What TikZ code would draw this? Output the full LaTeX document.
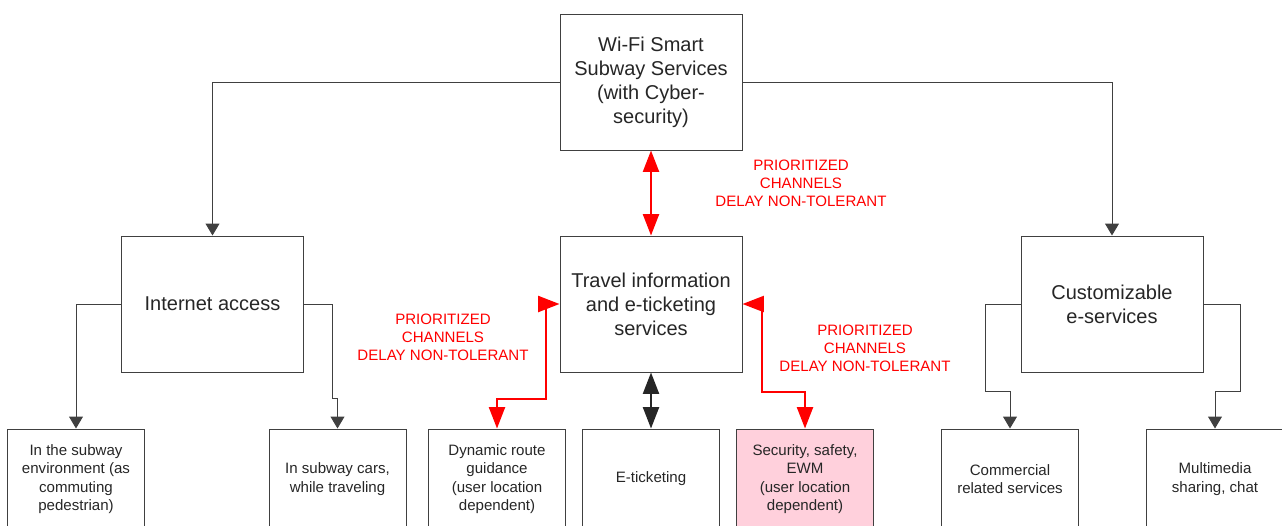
\documentclass[tikz,border=0pt]{standalone}
\usepackage{fontspec}
\setmainfont{Liberation Sans}
\usepackage{tikz}
\usetikzlibrary{arrows.meta, calc}
\definecolor{linegray}{HTML}{404040}
\definecolor{textgray}{HTML}{262626}
\definecolor{alertpink}{HTML}{FFD0DC}

\begin{document}
\begin{tikzpicture}[x=0.75pt, y=-0.75pt,
    bigbox/.style={draw=linegray, line width=0.75pt, text=textgray, align=center, inner sep=0pt,
        minimum width=136.5pt, minimum height=102pt, font=\fontsize{15}{18}\selectfont},
    smallbox/.style={draw=linegray, line width=0.75pt, text=textgray, align=center, inner sep=0pt,
        minimum width=102.75pt, minimum height=75pt, font=\fontsize{11.3}{13.9}\selectfont},
    note/.style={text=red, align=center, inner sep=0pt, font=\fontsize{11.3}{13.5}\selectfont},
    link/.style={draw=linegray, line width=0.75pt, -{Triangle[length=9pt, width=10.5pt]}},
    fastlink/.style={draw=red, line width=1.5pt, {Triangle[length=16pt, width=12pt]}-{Triangle[length=16pt, width=12pt]}}]
        \clip (0,0) rectangle (1282,525);

        % Nodes
        \node[bigbox] (top) at (651, 82) {Wi-Fi Smart\\Subway Services\\(with Cyber-\\security)};
        \node[bigbox] (ia) at (212.5, 304) {Internet access};
        \node[bigbox] (travel) at (651, 304) {Travel information\\and e-ticketing\\services};
        \node[bigbox] (cust) at (1112, 304) {Customizable\\e-services};

        \node[smallbox] (env) at (76, 479) {In the subway\\environment (as\\commuting\\pedestrian)};
        \node[smallbox] (cars) at (337.5, 479) {In subway cars,\\while traveling};
        \node[smallbox] (route) at (497, 479) {Dynamic route\\guidance\\(user location\\dependent)};
        \node[smallbox] (eticket) at (651, 479) {E-ticketing};
        \node[smallbox, fill=alertpink] (safety) at (805, 479) {Security, safety,\\EWM\\(user location\\dependent)};
        \node[smallbox] (shop) at (1010, 479) {Commercial\\related services};
        \node[smallbox] (media) at (1215, 479) {Multimedia\\sharing, chat};

        \node[note] (qos1) at (801, 183) {PRIORITIZED\\CHANNELS\\DELAY NON-TOLERANT};
        \node[note] (qos2) at (443, 337) {PRIORITIZED\\CHANNELS\\DELAY NON-TOLERANT};
        \node[note] (qos3) at (865, 348) {PRIORITIZED\\CHANNELS\\DELAY NON-TOLERANT};

        % Directed edges
        \draw[link] (top.west) -| (ia.north);
        \draw[link] (top.east) -| (cust.north);
        \draw[link] (ia.west) -| (env.north);
        \draw[link] (ia.east) -| ($(cars.north)+(-5,-30)$) -| (cars.north);
        \draw[link] (cust.west) -| ($(shop.north)+(-25,-37)$) -| (shop.north);
        \draw[link] (cust.east) -| ($(media.north)+(25,-37)$) -| (media.north);

        % Prioritized channels
        \draw[fastlink] (top.south) -- (travel.north);
        \draw[fastlink] (travel.west) -- ++(-14,0) |- ($(route.north)+(0,-30)$) -- (route.north);
        \draw[fastlink] (travel.east) -- ++(19,0) |- ($(safety.north)+(0,-37)$) -- (safety.north);
        \draw[fastlink, draw=textgray] (travel.south) -- (eticket.north);
    \end{tikzpicture}
\end{document}
